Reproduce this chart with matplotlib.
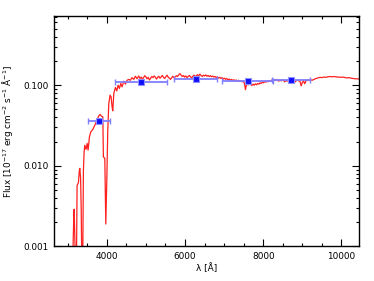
import numpy as np
import matplotlib
matplotlib.use('Agg')
import matplotlib.pyplot as plt
from matplotlib.ticker import FixedLocator, MultipleLocator, NullFormatter

plt.rcParams['font.family'] = ['DejaVu Sans']
plt.rcParams['mathtext.fontset'] = 'dejavusans'

# spectrum (wavelength in Angstrom, flux in 1e-17 erg/cm2/s/A)
wave = [3130, 3150, 3165, 3180, 3195, 3225, 3240, 3275, 3295, 3310, 3330, 3345, 3360,
        3385, 3402, 3420, 3438, 3471, 3497, 3522, 3556, 3591, 3642, 3694, 3745, 3796,
        3829, 3862, 3898, 3913, 3949, 3974, 4000, 4025, 4051, 4084, 4110, 4135, 4153,
        4179, 4220, 4255, 4289, 4322, 4357, 4391, 4434, 4475, 4518, 4562, 4600, 4646,
        4690, 4731, 4774, 4815, 4850, 4880, 4910, 4940, 4970, 5000, 5030, 5060, 5090,
        5120, 5150, 5180, 5210, 5240, 5270, 5300, 5330, 5360, 5390, 5420, 5450, 5480,
        5510, 5540, 5570, 5600, 5630, 5660, 5690, 5720, 5750, 5780, 5810, 5840, 5870,
        5900, 5930, 5960, 5990, 6020, 6050, 6080, 6110, 6140, 6170, 6200, 6230, 6260,
        6290, 6320, 6350, 6380, 6410, 6440, 6470, 6500, 6530, 6560, 6590, 6620, 6650,
        6680, 6710, 6740, 6770, 6800, 6830, 6860, 6890, 6920, 6950, 6980, 7010, 7040,
        7070, 7100, 7130, 7160, 7190, 7220, 7250, 7280, 7310, 7340, 7370, 7400, 7430,
        7460, 7490, 7520, 7545, 7565, 7590, 7620, 7650, 7680, 7710, 7740, 7770, 7800,
        7830, 7860, 7890, 7920, 7950, 7980, 8010, 8040, 8070, 8100, 8130, 8160, 8190,
        8220, 8250, 8280, 8310, 8340, 8370, 8400, 8430, 8460, 8490, 8520, 8550, 8580,
        8610, 8640, 8670, 8700, 8730, 8760, 8790, 8820, 8850, 8880, 8910, 8940, 8970,
        9000, 9030, 9060, 9090, 9120, 9150, 9200, 9250, 9300, 9350, 9400, 9450, 9500,
        9550, 9600, 9650, 9700, 9750, 9800, 9850, 9900, 9950, 10000, 10050, 10100,
        10150, 10200, 10250, 10300, 10350, 10400, 10460]
flux = [0.0007, 0.0018, 0.0029, 0.0015, 0.0007, 0.0007, 0.0057, 0.0062, 0.0085, 0.0093,
        0.0070, 0.0030, 0.0007,
        0.0007, 0.0089, 0.0149, 0.0180, 0.0160, 0.0190, 0.0157, 0.0229, 0.0264, 0.0282,
        0.0319, 0.0368, 0.0417, 0.0434, 0.0413, 0.0405, 0.0129, 0.0124, 0.0019, 0.0066,
        0.0277, 0.0593, 0.0752, 0.0716, 0.0538, 0.0481, 0.0789, 0.0937, 0.0850, 0.1000,
        0.0910, 0.1050, 0.0953, 0.1120, 0.1030, 0.1150, 0.1180, 0.1150, 0.1240, 0.1180,
        0.1290, 0.1200, 0.1300, 0.121, 0.126, 0.118, 0.124, 0.131, 0.127, 0.120, 0.125,
        0.116, 0.122, 0.128, 0.124, 0.130, 0.126, 0.119, 0.125, 0.129, 0.122, 0.127,
        0.132, 0.125, 0.121, 0.127, 0.133, 0.126, 0.122, 0.118, 0.124, 0.129, 0.123,
        0.127, 0.131, 0.128, 0.135, 0.139, 0.133, 0.128, 0.132, 0.126, 0.130, 0.124,
        0.128, 0.132, 0.127, 0.123, 0.129, 0.133, 0.128, 0.131, 0.135, 0.130, 0.137,
        0.132, 0.128, 0.133, 0.130, 0.134, 0.129, 0.132, 0.128, 0.131, 0.127, 0.130,
        0.126, 0.128, 0.124, 0.127, 0.122, 0.125, 0.121, 0.124, 0.119, 0.122, 0.118,
        0.121, 0.116, 0.119, 0.115, 0.118, 0.114, 0.117, 0.113, 0.116, 0.112, 0.115,
        0.111, 0.113, 0.110, 0.112, 0.105, 0.088, 0.098, 0.104, 0.101, 0.106, 0.102,
        0.099, 0.103, 0.100, 0.104, 0.101, 0.105, 0.103, 0.107, 0.105, 0.109, 0.107,
        0.111, 0.109, 0.113, 0.110, 0.114, 0.112, 0.116, 0.113, 0.117, 0.114, 0.118,
        0.115, 0.112, 0.116, 0.113, 0.117, 0.114, 0.110, 0.115, 0.112, 0.117, 0.114,
        0.116, 0.113, 0.117, 0.115, 0.110, 0.114, 0.116, 0.113, 0.111, 0.098, 0.108,
        0.113, 0.104, 0.112, 0.116, 0.114, 0.117, 0.115, 0.118, 0.121, 0.123, 0.125,
        0.124, 0.126, 0.125, 0.127, 0.128, 0.127, 0.128, 0.127, 0.126, 0.126, 0.125,
        0.126, 0.124, 0.123, 0.124, 0.122, 0.121, 0.120, 0.120, 0.119]

# broad-band photometry
phot_wave = [3800, 4880, 6275, 7605, 8710]
phot_flux = [0.0361, 0.110, 0.1187, 0.112, 0.115]
phot_lo = [3530, 4220, 5727, 6953, 8225]
phot_hi = [4084, 5540, 6825, 8240, 9195]

fig = plt.figure(figsize=(3.74, 2.81), dpi=100)
ax = fig.add_axes([0.1444, 0.1228, 0.8156, 0.8202])

ax.plot(wave, flux, color='#ff2020', lw=0.9, zorder=2)

pw = np.array(phot_wave)
xerr = [pw - np.array(phot_lo), np.array(phot_hi) - pw]
ax.errorbar(phot_wave, phot_flux, xerr=xerr, fmt='none', ecolor='#7f7fff',
            elinewidth=1.3, capsize=2.2, capthick=1.0, zorder=3)
ax.plot(phot_wave, phot_flux, 's', ms=4.5, color='#1010ff', mec='#9090ff', mew=0.8, zorder=4)

ax.set_yscale('log')
ax.set_xlim(2650, 10450)
ax.set_ylim(0.001, 0.72)
ax.xaxis.set_major_locator(FixedLocator([4000, 6000, 8000, 10000]))
ax.xaxis.set_minor_locator(MultipleLocator(500))
ax.yaxis.set_major_locator(FixedLocator([0.001, 0.01, 0.1]))
ax.set_yticklabels(['0.001', '0.010', '0.100'])
ax.yaxis.set_minor_formatter(NullFormatter())

ax.tick_params(which='both', direction='in', top=True, right=True, labelsize=6.4, width=0.8)
ax.tick_params(which='major', length=5, pad=4)
ax.tick_params(which='minor', length=2.5)
for s in ax.spines.values():
    s.set_linewidth(1.0)

ax.set_xlabel('λ [Å]', fontsize=6.4, labelpad=2)
ax.set_ylabel('Flux [10$^{-17}$ erg cm$^{-2}$ s$^{-1}$ Å$^{-1}$]', fontsize=6.4, labelpad=6)

fig.savefig('out.png', dpi=100)
